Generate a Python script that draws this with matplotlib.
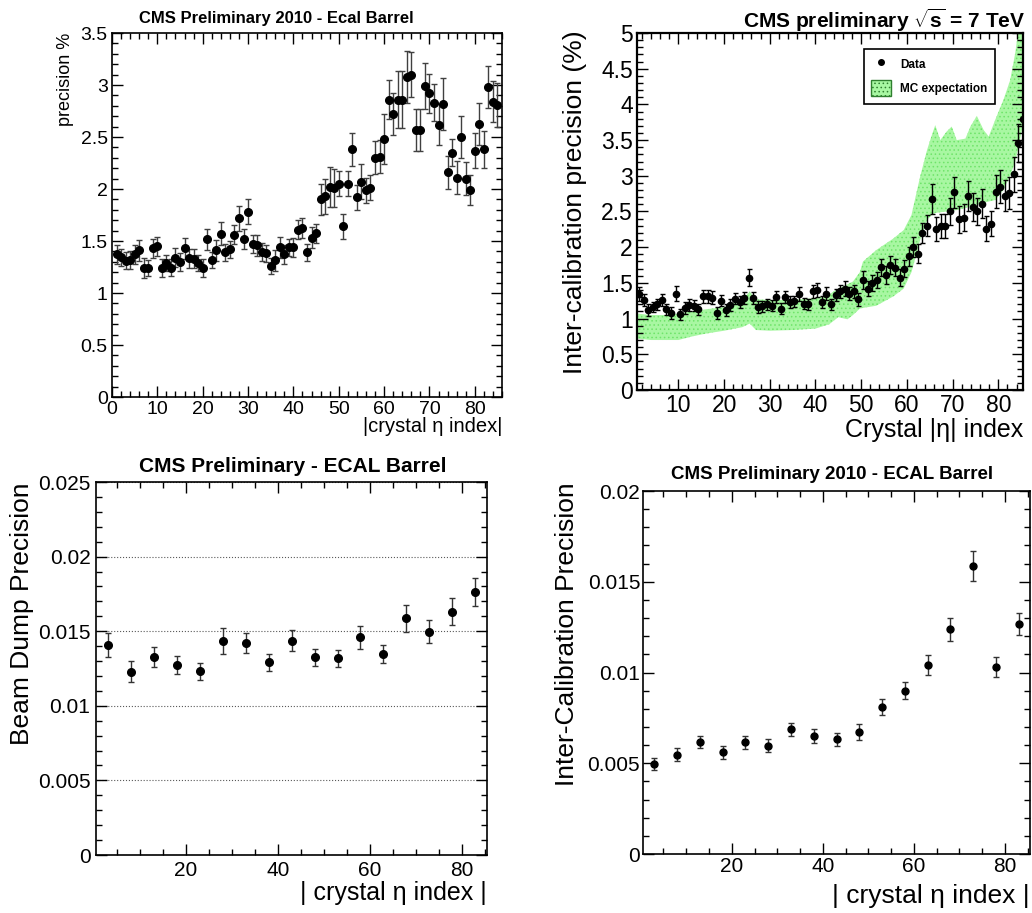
import matplotlib
matplotlib.use("Agg")
import matplotlib.pyplot as plt
import numpy as np
from matplotlib.ticker import MultipleLocator, FuncFormatter
from matplotlib.lines import Line2D
from matplotlib.patches import Patch

plt.rcParams["font.family"] = ["Liberation Sans", "DejaVu Sans"]
plt.rcParams["mathtext.fontset"] = "custom"
plt.rcParams["mathtext.rm"] = "Liberation Sans"
plt.rcParams["mathtext.bf"] = "Liberation Sans:bold"
plt.rcParams["hatch.linewidth"] = 0.6

# ---- top left: precision % vs |crystal eta index| ----
p1_x = np.arange(1, 86)
p1_y = [1.372, 1.343, 1.31, 1.316, 1.372, 1.41, 1.24, 1.24, 1.43, 1.45,
        1.24, 1.29, 1.245, 1.34, 1.297, 1.43, 1.335, 1.33, 1.29, 1.24,
        1.515, 1.316, 1.41, 1.57, 1.39, 1.42, 1.56, 1.72, 1.52, 1.78,
        1.47, 1.46, 1.395, 1.38, 1.26, 1.316, 1.44, 1.372, 1.44, 1.44,
        1.61, 1.625, 1.39, 1.53, 1.575, 1.90, 1.93, 2.02, 2.01, 2.05,
        1.64, 2.05, 2.38, 1.92, 2.07, 1.99, 2.01, 2.30, 2.31, 2.48,
        2.86, 2.72, 2.86, 2.86, 3.08, 3.10, 2.57, 2.57, 2.99, 2.92,
        2.83, 2.62, 2.82, 2.16, 2.35, 2.11, 2.50, 2.10, 1.99, 2.37,
        2.625, 2.38, 2.98, 2.84, 2.81]
p1_err = [0.09, 0.08, 0.08, 0.09, 0.09, 0.10, 0.10, 0.08, 0.09, 0.09,
          0.09, 0.08, 0.08, 0.09, 0.09, 0.10, 0.09, 0.09, 0.08, 0.09,
          0.10, 0.08, 0.10, 0.11, 0.08, 0.08, 0.09, 0.12, 0.10, 0.12,
          0.09, 0.10, 0.09, 0.08, 0.08, 0.10, 0.10, 0.09, 0.08, 0.09,
          0.09, 0.10, 0.08, 0.10, 0.09, 0.15, 0.17, 0.19, 0.18, 0.12,
          0.12, 0.12, 0.16, 0.12, 0.17, 0.12, 0.12, 0.16, 0.16, 0.24,
          0.19, 0.20, 0.27, 0.27, 0.25, 0.22, 0.20, 0.20, 0.22, 0.19,
          0.18, 0.20, 0.25, 0.16, 0.13, 0.16, 0.20, 0.16, 0.14, 0.17,
          0.20, 0.18, 0.20, 0.20, 0.21]

# ---- top right: inter-calibration precision (%) with MC band ----
p2_x = np.arange(1, 86) + 0.4
p2_y = [1.34, 1.26, 1.12, 1.16, 1.20, 1.26, 1.13, 1.08, 1.35, 1.06,
        1.15, 1.19, 1.18, 1.13, 1.31, 1.31, 1.29, 1.08, 1.25, 1.12,
        1.19, 1.28, 1.23, 1.29, 1.57, 1.29, 1.16, 1.17, 1.20, 1.18,
        1.30, 1.14, 1.30, 1.23, 1.24, 1.34, 1.21, 1.20, 1.38, 1.40,
        1.23, 1.35, 1.20, 1.33, 1.38, 1.42, 1.35, 1.38, 1.27, 1.54,
        1.42, 1.50, 1.54, 1.72, 1.61, 1.75, 1.71, 1.57, 1.70, 1.87,
        2.00, 1.91, 2.20, 2.30, 2.68, 2.25, 2.30, 2.30, 2.50, 2.77,
        2.39, 2.41, 2.72, 2.56, 2.50, 2.61, 2.26, 2.33, 2.78, 2.85,
        2.72, 2.76, 3.02, 3.46, 3.79]
p2_err = [0.10, 0.08, 0.08, 0.07, 0.08, 0.08, 0.08, 0.08, 0.10, 0.08,
          0.08, 0.08, 0.08, 0.08, 0.09, 0.09, 0.09, 0.08, 0.08, 0.08,
          0.08, 0.08, 0.08, 0.08, 0.12, 0.08, 0.08, 0.08, 0.08, 0.08,
          0.08, 0.08, 0.08, 0.08, 0.08, 0.10, 0.08, 0.08, 0.09, 0.10,
          0.08, 0.09, 0.08, 0.09, 0.09, 0.10, 0.09, 0.09, 0.09, 0.12,
          0.11, 0.11, 0.11, 0.12, 0.12, 0.12, 0.12, 0.12, 0.12, 0.13,
          0.14, 0.13, 0.14, 0.15, 0.21, 0.17, 0.17, 0.17, 0.19, 0.22,
          0.19, 0.19, 0.21, 0.20, 0.19, 0.20, 0.17, 0.18, 0.23, 0.23,
          0.22, 0.22, 0.24, 0.27, 0.29]
band_x = [1, 4, 8, 10, 13, 16, 20, 24, 25.6, 27,
          30, 35, 40, 43, 45, 47, 48.2, 49.7, 50.4, 53.3,
          57, 59.3, 61, 62.9, 64.4, 65.1, 66.2, 67.3, 68.7, 69.8,
          70.9, 72.8, 73.9, 75.3, 76.8, 77.9, 79.3, 81.1, 82.6, 83.7,
          84.4, 86]
band_hi = [1.07, 1.05, 1.05, 1.07, 1.10, 1.13, 1.16, 1.26, 1.38, 1.27,
           1.26, 1.26, 1.29, 1.34, 1.42, 1.48, 1.52, 1.65, 1.80, 1.96,
           2.12, 2.24, 2.45, 2.99, 3.36, 3.50, 3.71, 3.50, 3.62, 3.69,
           3.50, 3.52, 3.69, 3.84, 3.64, 3.55, 3.78, 4.06, 4.34, 4.72,
           5.04, 5.6]
band_lo = [0.72, 0.70, 0.70, 0.70, 0.75, 0.79, 0.83, 0.88, 0.93, 0.84,
           0.83, 0.84, 0.86, 0.92, 1.02, 0.99, 1.05, 1.14, 1.15, 1.18,
           1.31, 1.42, 1.65, 2.10, 2.38, 2.43, 2.48, 2.49, 2.50, 2.51,
           2.52, 2.55, 2.57, 2.60, 2.62, 2.64, 2.66, 2.80, 3.00, 3.20,
           3.40, 3.90]

# ---- bottom left: beam dump precision ----
p3_x = [3, 8, 13, 18, 23, 28, 33, 38, 43, 48, 53, 58, 63, 68, 73, 78, 83]
p3_y = [0.01407, 0.01229, 0.01325, 0.01273, 0.01233, 0.01437, 0.01419,
        0.01291, 0.01437, 0.01325, 0.01318, 0.01459, 0.01347, 0.01586,
        0.01497, 0.01631, 0.01761]
p3_err = [0.00078, 0.00072, 0.00067, 0.00059, 0.00057, 0.00087, 0.00068,
          0.00057, 0.00068, 0.00057, 0.00057, 0.00075, 0.00061, 0.00090,
          0.00075, 0.00091, 0.00093]

# ---- bottom right: inter-calibration precision 2010 ----
p4_x = [3, 8, 13, 18, 23, 28, 33, 38, 43, 48, 53, 58, 63, 68, 73, 78, 83]
p4_y = [0.00496, 0.00547, 0.00618, 0.00560, 0.00615, 0.00596, 0.00686,
        0.00651, 0.00631, 0.00670, 0.00811, 0.00899, 0.01039, 0.01239,
        0.01589, 0.01030, 0.01268]
p4_err = [0.00031, 0.00037, 0.00032, 0.00035, 0.00035, 0.00036, 0.00038,
          0.00039, 0.00037, 0.00044, 0.00044, 0.00047, 0.00055, 0.00063,
          0.00083, 0.00054, 0.00061]

W, H = 1032, 913
fig = plt.figure(figsize=(W / 100, H / 100), dpi=100)
fmt = FuncFormatter(lambda v, p: f"{v:g}")
band_face = "#a8f7a2"
band_dots = "#6fe46a"


def add_axes(left, top, right, bottom):
    return fig.add_axes([left / W, 1 - bottom / H, (right - left) / W, (bottom - top) / H])


def style(ax, xmaj, xmin, ymaj, ymin, size, pad=3, lw=1.2):
    ax.xaxis.set_major_locator(MultipleLocator(xmaj))
    ax.xaxis.set_minor_locator(MultipleLocator(xmin))
    ax.yaxis.set_major_locator(MultipleLocator(ymaj))
    ax.yaxis.set_minor_locator(MultipleLocator(ymin))
    ax.xaxis.set_major_formatter(fmt)
    ax.yaxis.set_major_formatter(fmt)
    ax.tick_params(which="both", direction="in", top=True, right=True,
                   labelsize=size, pad=pad, width=1)
    ax.tick_params(which="major", length=8)
    ax.tick_params(which="minor", length=4)
    for s in ax.spines.values():
        s.set_linewidth(lw)


def title(x, y, text, size, ha="center"):
    fig.text(x / W, 1 - y / H, text, ha=ha, va="baseline", fontsize=size, fontweight="bold")


# top left
ax1 = add_axes(112, 33, 502, 397)
ax1.errorbar(p1_x, p1_y, yerr=p1_err, fmt="o", color="k", ms=5.5, ecolor="0.25",
             elinewidth=1, capsize=2, capthick=1)
ax1.set_xlim(0, 86)
ax1.set_ylim(0, 3.5)
style(ax1, 10, 2, 0.5, 0.1, 14, pad=3)
ax1.set_xlabel("|crystal η index|", fontsize=14.5, loc="right", va="center")
ax1.xaxis.set_label_coords(1.0, -0.08)
ax1.set_ylabel("precision %", fontsize=13, loc="top", va="center")
ax1.yaxis.set_label_coords(-0.118, 1.0)
title(276, 23, "CMS Preliminary 2010 - Ecal Barrel", 12)

# top right
ax2 = add_axes(637, 33, 1023, 390)
ax2.fill_between(band_x, band_lo, band_hi, facecolor=band_face, edgecolor=band_dots,
                 hatch="....", linewidth=0, zorder=1)
ax2.errorbar(p2_x, p2_y, yerr=p2_err, fmt="o", color="k", ms=4.5, ecolor="k",
             elinewidth=1, capsize=1.8, capthick=1, zorder=3)
ax2.set_xlim(0.95, 85.4)
ax2.set_ylim(0, 5)
style(ax2, 10, 2, 0.5, 0.1, 16.5, pad=3, lw=1.6)
ax2.set_xlabel("Crystal |η| index", fontsize=18, loc="right", va="center")
ax2.xaxis.set_label_coords(1.0, -0.113)
ax2.set_ylabel("Inter-calibration precision (%)", fontsize=19, loc="top", va="center")
ax2.yaxis.set_label_coords(-0.161, 1.008)
handles = [Line2D([], [], marker="o", color="k", ls="none", ms=4),
           Patch(facecolor=band_face, edgecolor="#2f7f2f", hatch="....", linewidth=1)]
leg = ax2.legend(handles, ["Data", "MC expectation"], loc="upper left",
                 bbox_to_anchor=(0.572, 0.972), fancybox=False, edgecolor="k",
                 framealpha=1, prop={"weight": "bold", "size": 8.5},
                 handlelength=1.7, handleheight=1.8, labelspacing=0.6, borderpad=0.6)
leg.get_frame().set_linewidth(1.2)
leg.set_zorder(5)
title(1025, 28, r"CMS preliminary $\sqrt{\mathbf{s}}$ = 7 TeV", 15, ha="right")

# bottom left
ax3 = add_axes(96, 482, 487, 855)
ax3.errorbar(p3_x, p3_y, yerr=p3_err, fmt="o", color="k", ms=5.5, ecolor="0.2",
             elinewidth=1, capsize=2, capthick=1, zorder=3)
ax3.set_xlim(0.5, 85.5)
ax3.set_ylim(0, 0.025)
style(ax3, 20, 5, 0.005, 0.001, 15, pad=4)
ax3.yaxis.grid(True, which="major", linestyle=":", color="0.35", linewidth=0.8)
ax3.set_xlabel("| crystal η index |", fontsize=18, loc="right", va="center")
ax3.xaxis.set_label_coords(1.0, -0.102)
ax3.set_ylabel("Beam Dump Precision", fontsize=19, loc="top", va="center")
ax3.yaxis.set_label_coords(-0.189, 1.0)
title(293, 472, "CMS Preliminary - ECAL Barrel", 15)

# bottom right
ax4 = add_axes(643, 491, 1030, 854)
ax4.errorbar(p4_x, p4_y, yerr=p4_err, fmt="o", color="k", ms=5, ecolor="0.2",
             elinewidth=1, capsize=2, capthick=1, zorder=3)
ax4.set_xlim(0.5, 85.5)
ax4.set_ylim(0, 0.02)
style(ax4, 20, 5, 0.005, 0.001, 15, pad=2)
ax4.set_xlabel("| crystal η index |", fontsize=19, loc="right", va="center")
ax4.xaxis.set_label_coords(1.0, -0.116)
ax4.set_ylabel("Inter-Calibration Precision", fontsize=19, loc="top", va="center")
ax4.yaxis.set_label_coords(-0.196, 1.025)
title(832, 479, "CMS Preliminary 2010 - ECAL Barrel", 13.5)

fig.savefig("out.png", dpi=100, facecolor="white")
